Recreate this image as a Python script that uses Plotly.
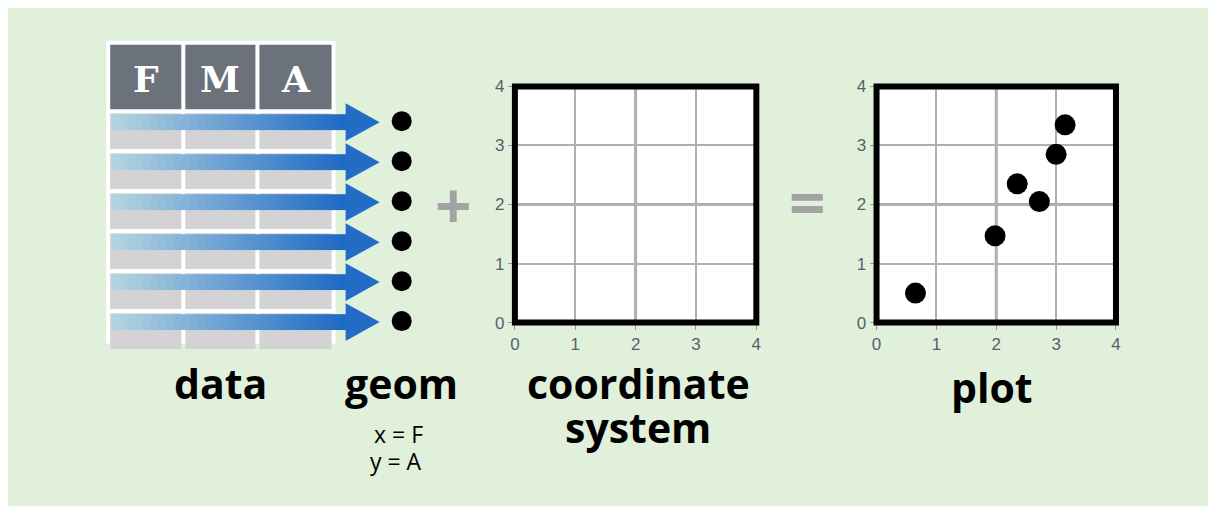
import plotly.graph_objects as go

W, H = 1216, 506
columns = ["F", "M", "A"]
F = [0.65, 1.98, 2.35, 2.72, 3.0, 3.15]
A = [0.5, 1.47, 2.35, 2.05, 2.85, 3.35]
ticks = [0, 1, 2, 3, 4]

# compensate for the observed render offset/scale
def px(x): return ((x - 8) / 0.99) / W
def py(y): return 1 - ((y - 17) / 0.97) / H

fig = go.Figure()
shapes = []
ann = []

shapes.append(dict(type="rect", xref="paper", yref="paper", x0=px(101), x1=px(330), y0=py(346), y1=py(41),
                   fillcolor="white", line=dict(width=0), layer="below"))
colx = [(105, 176), (180, 250), (254, 326)]
for (a, b), c in zip(colx, columns):
    shapes.append(dict(type="rect", xref="paper", yref="paper", x0=px(a), x1=px(b), y0=py(110), y1=py(45),
                       fillcolor="#6c727b", line=dict(width=0)))
    ann.append(dict(x=px((a + b) / 2), y=py(79), xref="paper", yref="paper", text="<b>%s</b>" % c,
                    xanchor="center", yanchor="middle",
                    showarrow=False, font=dict(family="DejaVu Serif", size=36, color="white")))

n = len(F)
for i in range(n):
    top = 114 + i * 40.3
    for a, b in colx:
        shapes.append(dict(type="rect", xref="paper", yref="paper", x0=px(a), x1=px(b), y0=py(top + 36), y1=py(top),
                           fillcolor="#d3d3d6", line=dict(width=0)))
    yc = top + 9
    segs = 30
    x0, x1 = 106, 342
    c0, c1 = (178, 212, 224), (30, 106, 196)
    for s in range(segs):
        t = s / (segs - 1)
        col = "rgb(%d,%d,%d)" % tuple(int(c0[k] + (c1[k] - c0[k]) * t) for k in range(3))
        xa = x0 + (x1 - x0) * s / segs
        xb = x0 + (x1 - x0) * (s + 1) / segs + 0.8
        shapes.append(dict(type="rect", xref="paper", yref="paper", x0=px(xa), x1=px(xb), y0=py(yc + 8), y1=py(yc - 8),
                           fillcolor=col, line=dict(width=0)))
    shapes.append(dict(type="path", xref="paper", yref="paper",
                       path="M %f %f L %f %f L %f %f Z" % (px(340), py(yc - 19), px(374), py(yc), px(340), py(yc + 19)),
                       fillcolor="#226cc6", line=dict(width=0)))

fig.add_trace(go.Scatter(x=[px(396)] * n, y=[py(122 + i * 40.3) for i in range(n)], mode="markers",
                         marker=dict(size=20, color="black"), xaxis="x3", yaxis="y3", hoverinfo="skip"))
fig.add_trace(go.Scatter(x=[], y=[], xaxis="x", yaxis="y"))
fig.add_trace(go.Scatter(x=F, y=A, mode="markers", marker=dict(size=21, color="black"), xaxis="x2", yaxis="y2"))

axcommon = dict(range=[0, 4], tickvals=ticks, showgrid=True, gridcolor="#b0b0b0", gridwidth=1.5,
                zeroline=False, showline=False, ticks="outside", ticklen=6, tickcolor="#999",
                tickfont=dict(family="Liberation Sans", size=17, color="#56606a"), fixedrange=True)
fig.update_layout(
    xaxis=dict(domain=[px(509), px(750)], anchor="y", **axcommon),
    yaxis=dict(domain=[py(325), py(87)], anchor="x", **axcommon),
    xaxis2=dict(domain=[px(870), px(1109)], anchor="y2", **axcommon),
    yaxis2=dict(domain=[py(325), py(87)], anchor="x2", **axcommon),
    xaxis3=dict(domain=[0, 1], range=[0, 1], visible=False, fixedrange=True),
    yaxis3=dict(domain=[0, 1], range=[0, 1], visible=False, fixedrange=True),
)
for xr, yr in (("x", "y"), ("x2", "y2")):
    shapes.append(dict(type="rect", xref=xr + " domain", yref=yr + " domain", x0=0, x1=1, y0=0, y1=1,
                       fillcolor="white", line=dict(width=0), layer="below"))
    shapes.append(dict(type="line", xref=xr, yref=yr + " domain", x0=2, x1=2, y0=0, y1=1, line=dict(color="#a8a8a8", width=3), layer="below"))
    shapes.append(dict(type="line", xref=xr + " domain", yref=yr, x0=0, x1=1, y0=2, y1=2, line=dict(color="#a8a8a8", width=3), layer="below"))
    shapes.append(dict(type="rect", xref=xr + " domain", yref=yr + " domain", x0=0, x1=1, y0=0, y1=1,
                       line=dict(color="black", width=6)))

def label(x, y, t, size, color="black", bold=True):
    ann.append(dict(x=px(x), y=py(y), xref="paper", yref="paper", text=("<b>%s</b>" % t) if bold else t,
                    xanchor="center", yanchor="middle",
                    showarrow=False, font=dict(family="Open Sans", size=size, color=color)))

label(215, 386, "data", 41)
label(396, 386, "geom", 41)
label(393, 437, "x = F", 23, bold=False)
label(390, 464, "y = A", 23, bold=False)
label(632, 386, "coordinate", 41)
label(632, 430, "system", 41)
label(985, 390, "plot", 41)
label(448, 206, "+", 64, color="#a3a3a3")
label(801, 203, "=", 64, color="#a3a3a3")

fig.update_layout(width=W, height=H, margin=dict(l=0, r=0, t=0, b=0), paper_bgcolor="#e1f0da",
                  plot_bgcolor="rgba(0,0,0,0)", showlegend=False, shapes=shapes, annotations=ann)
fig.write_html("out.html")
